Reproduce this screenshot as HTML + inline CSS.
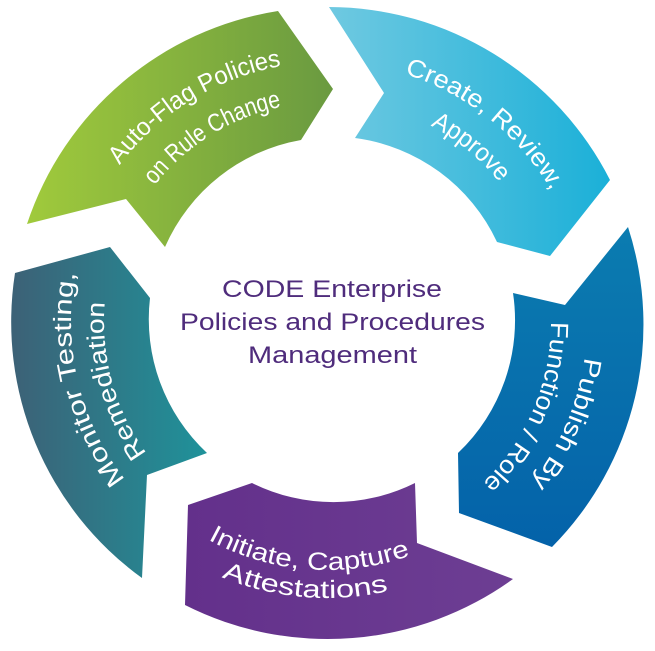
<!DOCTYPE html>
<html>
<head>
<meta charset="utf-8">
<style>
  html, body { margin: 0; padding: 0; background: #ffffff; }
  svg { display: block; }
  .lbl { font-family: "Liberation Sans", "DejaVu Sans", sans-serif; font-size: 25px; fill: #ffffff; }
  .ctr { font-family: "Liberation Sans", Arial, sans-serif; font-size: 24px; fill: #4f2c7c; }
</style>
</head>
<body>
<svg width="655" height="651" viewBox="0 0 655 651" xmlns="http://www.w3.org/2000/svg">
  <defs>
    <linearGradient id="gGreen" gradientUnits="userSpaceOnUse" x1="27" y1="0" x2="333" y2="0">
      <stop offset="0" stop-color="#a0ca3c"/>
      <stop offset="1" stop-color="#6a9a40"/>
    </linearGradient>
    <linearGradient id="gBlue" gradientUnits="userSpaceOnUse" x1="329" y1="0" x2="610" y2="0">
      <stop offset="0" stop-color="#6fc9e1"/>
      <stop offset="1" stop-color="#1bb0d8"/>
    </linearGradient>
    <linearGradient id="gDark" gradientUnits="userSpaceOnUse" x1="0" y1="227" x2="0" y2="547">
      <stop offset="0" stop-color="#0b7cb0"/>
      <stop offset="1" stop-color="#0462a9"/>
    </linearGradient>
    <linearGradient id="gPurple" gradientUnits="userSpaceOnUse" x1="185" y1="0" x2="513" y2="0">
      <stop offset="0" stop-color="#63308b"/>
      <stop offset="1" stop-color="#6d3e93"/>
    </linearGradient>
    <linearGradient id="gTeal" gradientUnits="userSpaceOnUse" x1="15" y1="0" x2="207" y2="0">
      <stop offset="0" stop-color="#3c6277"/>
      <stop offset="1" stop-color="#1f929a"/>
    </linearGradient>

    <!-- text paths -->
    <path id="tG1" d="M98.5,197.9 A260,260 0 0 1 320.2,62.1"/>
    <path id="tG2" d="M133.1,218.0 A220,220 0 0 1 320.1,102.1"/>
    <path id="tB1" d="M365.4,64.9 A260,260 0 0 1 568.9,226.7"/>
    <path id="tB2" d="M363.3,103.0 A222,222 0 0 1 534.8,243.9"/>
    <path id="tD1" d="M585.1,290.3 A260,260 0 0 1 483.5,529.6"/>
    <path id="tD2" d="M549.3,294.7 A224,224 0 0 1 461.8,500.9"/>
    <path id="tP1" d="M186.5,526.4 A248,248 0 0 0 433.8,545.8"/>
    <path id="tP2" d="M169.5,548.6 A276,276 0 0 0 444.5,571.7"/>
    <path id="tT1" d="M141.3,498.2 A256,256 0 0 1 81.5,249.3"/>
    <path id="tT2" d="M170.7,481.1 A223,223 0 0 1 111.1,266.2"/>
  </defs>

  <!-- Green: Auto-Flag Policies -->
  <path fill="url(#gGreen)" d="M27,224 L126,199 L165,247 A183,183 0 0 1 301,140 L333,89 L278,11 A316,316 0 0 0 27,224 Z"/>
  <!-- Light blue: Create, Review, Approve -->
  <path fill="url(#gBlue)" d="M329,7 L384,93 L355,138 A183,183 0 0 1 497,242 L550,256 L610,180 A316,316 0 0 0 329,7 Z"/>
  <!-- Dark blue: Publish By Function / Role -->
  <path fill="url(#gDark)" d="M628,227 L565,305 L513,293 A183,183 0 0 1 458,453 L459,513 L552,547 A316,316 0 0 0 628,227 Z"/>
  <!-- Purple: Initiate, Capture Attestations -->
  <path fill="url(#gPurple)" d="M415,483 L417,543 L513,579 A316,316 0 0 1 185,605 L188,505 L252,483 A183,183 0 0 0 415,483 Z"/>
  <!-- Teal: Monitor Testing, Remediation -->
  <path fill="url(#gTeal)" d="M142,578 L147,475 L207,453 A183,183 0 0 1 150,298 L110,247 L15,273 A316,316 0 0 0 142,578 Z"/>

  <!-- Labels -->
  <text class="lbl"><textPath href="#tG1" startOffset="50%" text-anchor="middle" textLength="194" lengthAdjust="spacingAndGlyphs">Auto-Flag Policies</textPath></text>
  <text class="lbl"><textPath href="#tG2" startOffset="50%" text-anchor="middle" textLength="152" lengthAdjust="spacingAndGlyphs">on Rule Change</textPath></text>

  <text class="lbl"><textPath href="#tB1" startOffset="50%" text-anchor="middle" textLength="192" lengthAdjust="spacingAndGlyphs">Create, Review,</textPath></text>
  <text class="lbl"><textPath href="#tB2" startOffset="50%" text-anchor="middle" textLength="90" lengthAdjust="spacingAndGlyphs">Approve</textPath></text>

  <text class="lbl"><textPath href="#tD1" startOffset="50%" text-anchor="middle" textLength="138" lengthAdjust="spacingAndGlyphs">Publish By</textPath></text>
  <text class="lbl"><textPath href="#tD2" startOffset="50%" text-anchor="middle" textLength="180" lengthAdjust="spacingAndGlyphs">Function / Role</textPath></text>

  <text class="lbl"><textPath href="#tP1" startOffset="50%" text-anchor="middle" textLength="209" lengthAdjust="spacingAndGlyphs">Initiate, Capture</textPath></text>
  <text class="lbl"><textPath href="#tP2" startOffset="50%" text-anchor="middle" textLength="170" lengthAdjust="spacingAndGlyphs">Attestations</textPath></text>

  <text class="lbl"><textPath href="#tT1" startOffset="50%" text-anchor="middle" textLength="219" lengthAdjust="spacingAndGlyphs">Monitor Testing,</textPath></text>
  <text class="lbl"><textPath href="#tT2" startOffset="50%" text-anchor="middle" textLength="160" lengthAdjust="spacingAndGlyphs">Remediation</textPath></text>

  <!-- Center title -->
  <text class="ctr" x="222" y="297" textLength="220" lengthAdjust="spacingAndGlyphs">CODE Enterprise</text>
  <text class="ctr" x="180" y="330" textLength="305" lengthAdjust="spacingAndGlyphs">Policies and Procedures</text>
  <text class="ctr" x="248" y="363" textLength="169" lengthAdjust="spacingAndGlyphs">Management</text>
</svg>
</body>
</html>
